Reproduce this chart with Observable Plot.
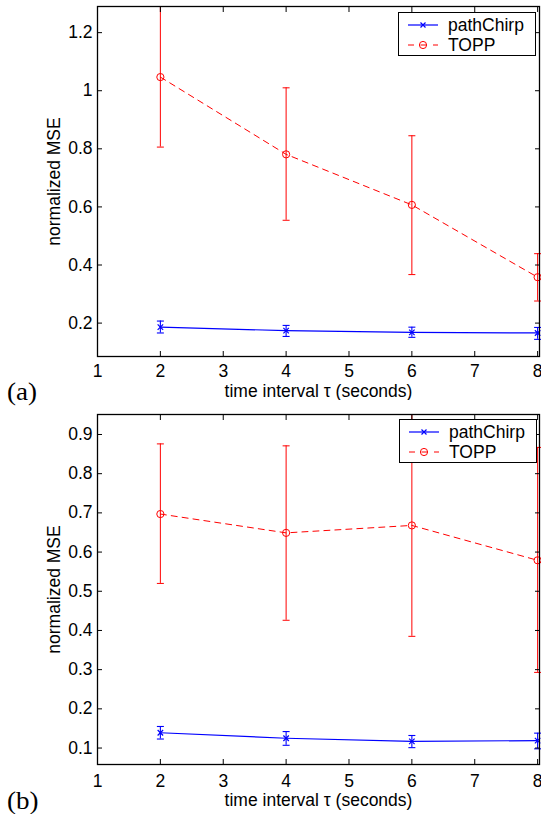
<!DOCTYPE html>
<html>
<head>
<meta charset="utf-8">
<script src="https://cdn.jsdelivr.net/npm/d3@7"></script>
<script src="https://cdn.jsdelivr.net/npm/@observablehq/plot@0.6"></script>
<style>
  html, body { margin: 0; padding: 0; background: #fff; }
  #wrap { position: relative; width: 541px; height: 814px; overflow: hidden; font-family: "Liberation Sans", Arial, sans-serif; }
  .panel { position: absolute; left: 0; }
  .panel svg { display: block; }
  .tag { position: absolute; font-family: "Liberation Serif", "Times New Roman", serif; font-size: 25px; line-height: 1; transform: scaleX(1.08); transform-origin: left top; }
  .legend { position: absolute; background: #fff; border: 1.3px solid #000; box-sizing: border-box; }
</style>
</head>
<body>
<div id="wrap"></div>
<script>
// ---- data ----
const tau = [2, 4, 6, 8];
const xTicks = [1, 2, 3, 4, 5, 6, 7, 8];

// panel (a)
const aPathChirp   = [0.186, 0.174, 0.168, 0.166];
const aPathChirpLo = [0.166, 0.154, 0.151, 0.144];
const aPathChirpHi = [0.207, 0.192, 0.186, 0.185];
const aTOPP   = [1.047, 0.781, 0.607, 0.358];
const aTOPPLo = [0.806, 0.554, 0.367, 0.276];
const aTOPPHi = [1.290, 1.010, 0.845, 0.439];
const aYTicks = [0.2, 0.4, 0.6, 0.8, 1.0, 1.2];

// panel (b)
const bPathChirp   = [0.139, 0.125, 0.117, 0.119];
const bPathChirpLo = [0.123, 0.107, 0.101, 0.098];
const bPathChirpHi = [0.155, 0.142, 0.132, 0.138];
const bTOPP   = [0.697, 0.649, 0.668, 0.579];
const bTOPPLo = [0.520, 0.426, 0.385, 0.293];
const bTOPPHi = [0.876, 0.871, 0.980, 0.867];
const bYTicks = [0.1, 0.2, 0.3, 0.4, 0.5, 0.6, 0.7, 0.8, 0.9];

const seriesNames = ["pathChirp", "TOPP"];
const BLUE = "#0000ff", RED = "#ff0000";
const FS = 17.5;

function rows(v, lo, hi) { return tau.map((t, i) => ({x: t, y: v[i], lo: lo[i], hi: hi[i]})); }

const cap = { draw(ctx) { ctx.moveTo(-3.5, 0); ctx.lineTo(3.5, 0); } };
const fmt = d => String(+d.toFixed(1));

function panel({pc, topp, yDomain, yTicks, height, marginTop, marginBottom, tickPad, labelOffset}) {
  const inY = d => d.hi <= yDomain[1];
  return Plot.plot({
    width: 541, height, marginLeft: 97, marginRight: 2, marginTop, marginBottom,
    style: {fontFamily: '"Liberation Sans", Arial, sans-serif', fontSize: FS + "px", color: "#000", background: "#fff", overflow: "visible"},
    x: {domain: [1, 8.03]},
    y: {domain: yDomain},
    marks: [
      // error bars
      Plot.ruleX(topp, {x: "x", y1: "lo", y2: "hi", stroke: RED, strokeWidth: 1, clip: true}),
      Plot.dot(topp, {x: "x", y: "lo", symbol: cap, stroke: RED, strokeWidth: 1}),
      Plot.dot(topp.filter(inY), {x: "x", y: "hi", symbol: cap, stroke: RED, strokeWidth: 1}),
      Plot.ruleX(pc, {x: "x", y1: "lo", y2: "hi", stroke: BLUE, strokeWidth: 1.1}),
      Plot.dot(pc, {x: "x", y: "lo", symbol: cap, stroke: BLUE, strokeWidth: 1.1}),
      Plot.dot(pc, {x: "x", y: "hi", symbol: cap, stroke: BLUE, strokeWidth: 1.1}),
      // lines
      Plot.line(topp, {x: "x", y: "y", stroke: RED, strokeWidth: 1, strokeDasharray: "6,5"}),
      Plot.line(pc, {x: "x", y: "y", stroke: BLUE, strokeWidth: 1.2}),
      // markers
      Plot.dot(topp, {x: "x", y: "y", r: 3.6, stroke: RED, fill: "none", strokeWidth: 1}),
      Plot.dot(pc, {x: "x", y: "y", symbol: "times", r: 2.6, stroke: BLUE, strokeWidth: 1.2}),
      // axes (inward ticks, MATLAB style)
      Plot.axisX({anchor: "bottom", ticks: xTicks, tickSize: 0, tickPadding: tickPad, tickFormat: d => String(d), fontSize: FS,
                  label: "time interval τ (seconds)", labelAnchor: "center", labelArrow: "none", labelOffset}),
      Plot.axisX({anchor: "bottom", ticks: xTicks, tickSize: -5, tickFormat: () => "", label: null}),
      Plot.axisX({anchor: "top", ticks: xTicks, tickSize: -5, tickFormat: () => "", label: null}),
      Plot.axisY({anchor: "left", ticks: yTicks, tickSize: 0, tickPadding: 5, tickFormat: fmt, fontSize: FS,
                  label: "normalized MSE", labelAnchor: "center", labelArrow: "none", labelOffset: 50}),
      Plot.axisY({anchor: "left", ticks: yTicks, tickSize: -5, tickFormat: () => "", label: null}),
      Plot.axisY({anchor: "right", ticks: yTicks, tickSize: -5, tickFormat: () => "", label: null}),
      Plot.frame({stroke: "#000", strokeWidth: 1.3})
    ]
  });
}

function legendHTML(left, top) {
  const w = 138, h = 44;
  return `<div class="legend" style="left:${left}px;top:${top}px;width:${w}px;height:${h}px;">
  <svg width="${w}" height="${h}" style="position:absolute;left:-1px;top:-1px;overflow:visible">
    <line x1="10" x2="40" y1="13" y2="13" stroke="${BLUE}" stroke-width="1.2"/>
    <path d="M22.5,10.5L27.5,15.5M27.5,10.5L22.5,15.5" stroke="${BLUE}" stroke-width="1.2"/>
    <line x1="10" x2="40" y1="33" y2="33" stroke="${RED}" stroke-width="1" stroke-dasharray="6,6.5"/>
    <circle cx="25" cy="33" r="3.6" stroke="${RED}" fill="none"/>
    <text x="50" y="13" dy="0.35em" font-size="${FS}" font-family="Liberation Sans, Arial, sans-serif">${seriesNames[0]}</text>
    <text x="50" y="33" dy="0.35em" font-size="${FS}" font-family="Liberation Sans, Arial, sans-serif">${seriesNames[1]}</text>
  </svg></div>`;
}

const wrap = document.getElementById("wrap");

const pA = document.createElement("div"); pA.className = "panel"; pA.style.top = "0px";
pA.appendChild(panel({pc: rows(aPathChirp, aPathChirpLo, aPathChirpHi), topp: rows(aTOPP, aTOPPLo, aTOPPHi),
  yDomain: [0.085, 1.29], yTicks: aYTicks, height: 400, marginTop: 6, marginBottom: 44, tickPad: 8, labelOffset: 40}));
wrap.appendChild(pA);

const pB = document.createElement("div"); pB.className = "panel"; pB.style.top = "400px";
pB.appendChild(panel({pc: rows(bPathChirp, bPathChirpLo, bPathChirpHi), topp: rows(bTOPP, bTOPPLo, bTOPPHi),
  yDomain: [0.058, 0.951], yTicks: bYTicks, height: 414, marginTop: 14, marginBottom: 50, tickPad: 10, labelOffset: 41}));
wrap.appendChild(pB);

wrap.insertAdjacentHTML("beforeend", legendHTML(398, 12));
wrap.insertAdjacentHTML("beforeend", legendHTML(399, 419));
wrap.insertAdjacentHTML("beforeend", `<div class="tag" style="left:7px;top:379px">(a)</div>`);
wrap.insertAdjacentHTML("beforeend", `<div class="tag" style="left:7px;top:788px">(b)</div>`);
</script>
</body>
</html>
